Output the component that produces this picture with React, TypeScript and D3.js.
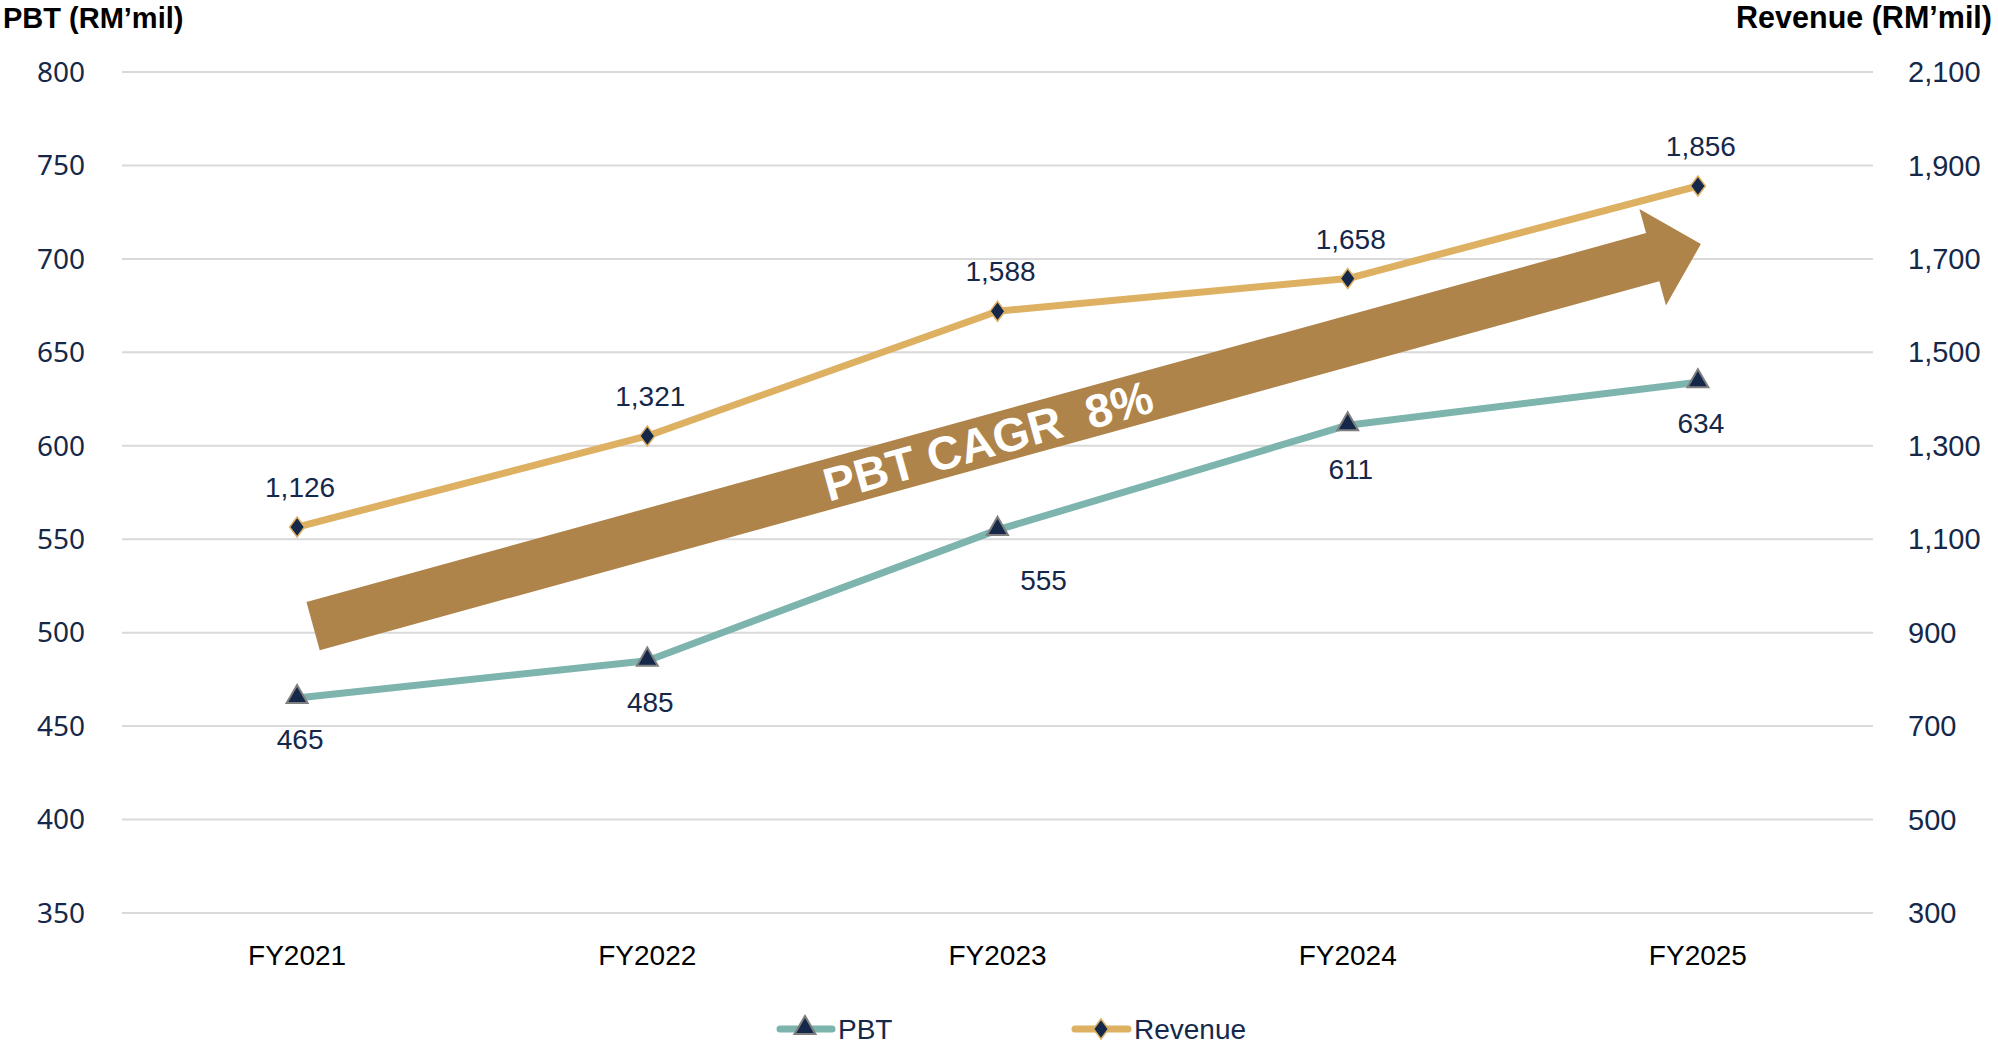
import React from 'react';
import * as d3 from 'd3';

// chart data
const categories = ['FY2021', 'FY2022', 'FY2023', 'FY2024', 'FY2025'];
const pbt = [465, 485, 555, 611, 634];
const revenue = [1126, 1321, 1588, 1658, 1856];
const leftTicks = [350, 400, 450, 500, 550, 600, 650, 700, 750, 800];
const rightTicks = [300, 500, 700, 900, 1100, 1300, 1500, 1700, 1900, 2100];
const cagrLabel = 'PBT CAGR  8%';

// small nudges for pbt labels that sit off the default spot
const pbtLabelShift = [[0, 0], [0, 0], [43, 9], [0, 3], [0, 0]];

const W = 1998;
const H = 1045;

const navy = '#15284a';
const gold = '#ddb062';
const teal = '#7db4ae';
const bronze = '#af844a';

export default function App() {
  const x = d3.scalePoint<string>().domain(categories).range([122, 1873]).padding(0.5);
  const yL = d3.scaleLinear().domain([350, 800]).range([913, 72]);
  const yR = d3.scaleLinear().domain([300, 2100]).range([913, 72]);

  const pbtLine = d3.line<number>()
    .x((_, i) => x(categories[i])!)
    .y(d => yL(d));
  const revLine = d3.line<number>()
    .x((_, i) => x(categories[i])!)
    .y(d => yR(d));

  // trend arrow, anchored to the left axis scale
  const tail: [number, number] = [x(categories[0])! + 16, yL(503.5)];
  const tip: [number, number] = [x(categories[4])! + 3, yL(708)];
  const ang = Math.atan2(tip[1] - tail[1], tip[0] - tail[0]);
  const len = Math.hypot(tip[0] - tail[0], tip[1] - tail[1]);
  const hw = 25, headLen = 50, headHw = 50;
  const arrowPath = d3.path();
  arrowPath.moveTo(0, -hw);
  arrowPath.lineTo(len - headLen, -hw);
  arrowPath.lineTo(len - headLen, -headHw);
  arrowPath.lineTo(len, 0);
  arrowPath.lineTo(len - headLen, headHw);
  arrowPath.lineTo(len - headLen, hw);
  arrowPath.lineTo(0, hw);
  arrowPath.closePath();

  const tri = d3.symbol().type(d3.symbolTriangle).size(190)();

  const labelFont = '"Liberation Sans", Arial, sans-serif';

  return (
    <svg width={W} height={H} style={{ position: 'absolute', left: 0, top: 0, background: '#fff' }}>
      {/* axis titles */}
      <text x={3} y={28} fontFamily={labelFont} fontWeight="bold" fontSize={29} fill="#000">PBT (RM’mil)</text>
      <text x={1992} y={28} textAnchor="end" fontFamily={labelFont} fontWeight="bold" fontSize={30.5} fill="#000">Revenue (RM’mil)</text>

      {/* grid */}
      {leftTicks.map(t => (
        <line key={t} x1={122} x2={1873} y1={yL(t)} y2={yL(t)} stroke="#d9d9d9" strokeWidth={2} />
      ))}
      {leftTicks.map(t => (
        <text key={'l' + t} x={85} y={yL(t)} dy="0.35em" textAnchor="end"
          fontFamily='"Noto Sans", sans-serif' fontSize={28} fill={navy}>{t}</text>
      ))}
      {rightTicks.map(t => (
        <text key={'r' + t} x={1908} y={yR(t)} dy="0.35em"
          fontFamily={labelFont} fontSize={29} fill={navy}>{d3.format(',')(t)}</text>
      ))}
      {categories.map(c => (
        <text key={c} x={x(c)} y={965} textAnchor="middle" fontFamily={labelFont} fontSize={28} fill="#000">{c}</text>
      ))}

      {/* arrow */}
      <g transform={`translate(${tail[0]},${tail[1]}) rotate(${(ang * 180) / Math.PI})`}>
        <path d={arrowPath.toString()} fill={bronze} />
        <text x={700} y={0} dy="0.36em" textAnchor="middle" fontFamily={labelFont}
          fontWeight="bold" fontSize={47} fill="#fff" style={{ whiteSpace: 'pre' }}>{cagrLabel}</text>
      </g>

      {/* lines */}
      <path d={revLine(revenue)!} fill="none" stroke={gold} strokeWidth={7} strokeLinejoin="round" />
      <path d={pbtLine(pbt)!} fill="none" stroke={teal} strokeWidth={7} strokeLinejoin="round" />

      {/* markers */}
      {revenue.map((v, i) => (
        <path key={'d' + i} transform={`translate(${x(categories[i])},${yR(v)})`}
          d="M0,-10L7.5,0L0,10L-7.5,0Z" fill={navy} stroke={gold} strokeWidth={1.5} />
      ))}
      {pbt.map((v, i) => (
        <path key={'t' + i} transform={`translate(${x(categories[i])},${yL(v) - 1})`}
          d={tri!} fill={navy} stroke="#7f7f7f" strokeWidth={2} />
      ))}

      {/* data labels */}
      {revenue.map((v, i) => (
        <text key={'rl' + i} x={x(categories[i])! + 3} y={yR(v) - 30} textAnchor="middle"
          fontFamily={labelFont} fontSize={28} fill={navy}>{d3.format(',')(v)}</text>
      ))}
      {pbt.map((v, i) => (
        <text key={'pl' + i} x={x(categories[i])! + 3 + pbtLabelShift[i][0]} y={yL(v) + 51 + pbtLabelShift[i][1]}
          textAnchor="middle" fontFamily={labelFont} fontSize={28} fill={navy}>{v}</text>
      ))}

      {/* legend */}
      <g transform="translate(0,1029)">
        <line x1={780} x2={832} y1={0} y2={0} stroke={teal} strokeWidth={7} strokeLinecap="round" />
        <path transform="translate(805,-1)" d={tri!} fill={navy} stroke="#7f7f7f" strokeWidth={2} />
        <text x={838} y={0} dy="0.35em" fontFamily={labelFont} fontSize={28} fill={navy}>PBT</text>
        <line x1={1075} x2={1128} y1={0} y2={0} stroke={gold} strokeWidth={7} strokeLinecap="round" />
        <path transform="translate(1101,0)" d="M0,-10L7.5,0L0,10L-7.5,0Z" fill={navy} stroke={gold} strokeWidth={1.5} />
        <text x={1134} y={0} dy="0.35em" fontFamily={labelFont} fontSize={28} fill={navy}>Revenue</text>
      </g>
    </svg>
  );
}
